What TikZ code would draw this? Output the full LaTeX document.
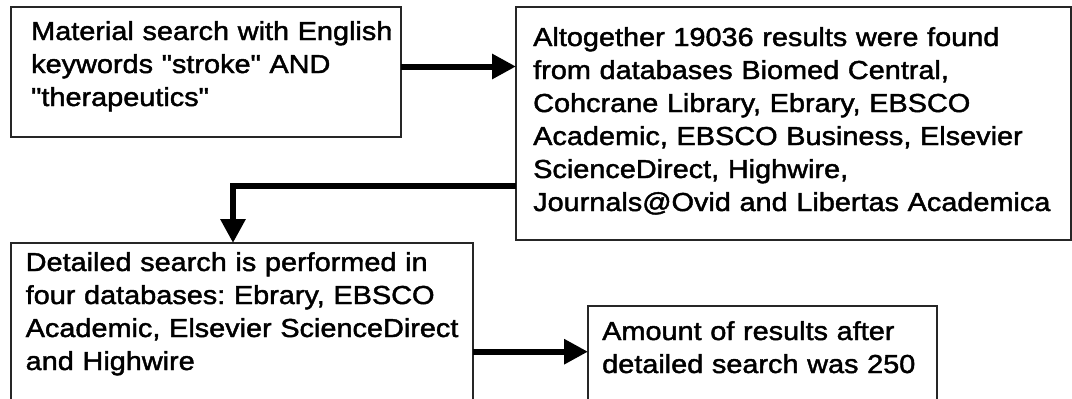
\documentclass[tikz,border=0pt]{standalone}
\usepackage{fontspec}
\newfontfamily\arialf{Liberation Sans}[FakeStretch=1.11,FakeBold=1.7]
\usetikzlibrary{arrows.meta}
\begin{document}
\frenchspacing
\begin{tikzpicture}[x=1pt,y=-1pt,
  boxst/.style={draw=black!85, line width=1.5pt, fill=none, inner sep=0pt, outer sep=0pt, anchor=north west},
  txt/.style={anchor=base west, inner sep=0pt, align=left, font=\arialf\frenchspacing\fontsize{26pt}{33pt}\selectfont},
  arr/.style={line width=6pt, -{Triangle[length=24pt,width=24pt]}}]
\clip (0,0) rectangle (1072,399);
\useasboundingbox (0,0) rectangle (1072,399);
\fill[white] (0,0) rectangle (1072,399);
% boxes
\node[boxst, minimum width=390pt, minimum height=130pt] (b1) at (11,7) {};
\node[boxst, minimum width=555pt, minimum height=233pt] (b2) at (516,7) {};
\node[boxst, minimum width=462pt, minimum height=200pt] (b3) at (11,243) {};
\node[boxst, minimum width=349pt, minimum height=150pt] (b4) at (588,306) {};
% texts
\node[txt, text width=380pt] (t1) at (31,40) {Material search with English\\keywords "stroke" AND\\"therapeutics"};
\node[txt, text width=540pt] (t2) at (533,46) {Altogether 19036 results were found\\from databases Biomed Central,\\Cohcrane Library, Ebrary, EBSCO\\Academic, EBSCO Business, Elsevier\\ScienceDirect, Highwire,\\Journals@Ovid and Libertas Academica};
\node[txt, text width=450pt] (t3) at (25.5,271) {Detailed search is performed in\\four databases: Ebrary, EBSCO\\Academic, Elsevier ScienceDirect\\and Highwire};
\node[txt, text width=340pt] (t4) at (602,340) {Amount of results after\\detailed search was 250};
% arrows
\draw[arr] ([yshift=5.5pt]b1.east) -- ([yshift=5.5pt]b1.east -| b2.west);
\draw[arr] ([yshift=-178.5pt]b2.north west) -| ([xshift=222pt]b3.north west);
\draw[arr] ([yshift=-108.7pt]b3.north east) -- ([yshift=-108.7pt]b3.north east -| b4.west);
\end{tikzpicture}
\end{document}
